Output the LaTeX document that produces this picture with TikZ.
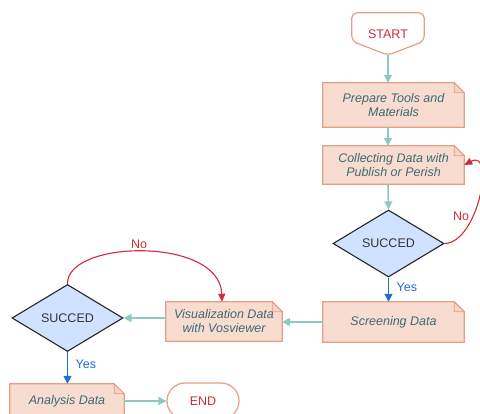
\documentclass[tikz,border=0pt]{standalone}
\usepackage{fontspec}
\setmainfont{Liberation Sans}
\usetikzlibrary{shapes.geometric,shapes.misc,arrows.meta,backgrounds}
\definecolor{flowteal}{RGB}{142,201,192}
\definecolor{boxfill}{RGB}{249,220,208}
\definecolor{boxline}{RGB}{226,160,132}
\definecolor{boxtext}{RGB}{62,106,116}
\definecolor{flowred}{RGB}{208,44,58}
\definecolor{flowblue}{RGB}{30,111,217}
\definecolor{dfill}{RGB}{207,226,255}
\tikzset{
  docbox/.style={rectangle, inner sep=0pt, align=center, text=boxtext,
    font=\fontsize{12.5}{14}\selectfont\itshape},
  decision/.style={diamond, draw=black!85, fill=dfill, line width=1.1pt,
    minimum width=111pt, minimum height=67pt, inner sep=0pt,
    font=\fontsize{12.5}{14}\selectfont, text=black!80},
  terminal/.style={font=\fontsize{12.5}{14}\selectfont, text=flowred},
  tealarrow/.style={draw=flowteal, line width=1.6pt,
    -{Triangle[length=8pt,width=8pt]}},
  redarrow/.style={draw=flowred, line width=1.1pt,
    -{Triangle[length=8pt,width=7pt]}},
  bluearrow/.style={draw=flowblue, line width=1.6pt,
    -{Triangle[length=8pt,width=8pt]}},
  lbl/.style={font=\fontsize{12.5}{14}\selectfont},
}
\newcommand\foldbox[1]{%
  \filldraw[fill=boxfill, draw=boxline, line width=1.2pt]
    (#1.north west) -- ([xshift=-10pt]#1.north east) -- ([yshift=-10pt]#1.north east)
    -- (#1.south east) -- (#1.south west) -- cycle;
  \draw[boxline, line width=0.8pt, fill=boxfill!85!boxline]
    ([xshift=-10pt]#1.north east) -- ([xshift=-10pt,yshift=-10pt]#1.north east)
    -- ([yshift=-10pt]#1.north east) -- cycle;
}
\begin{document}
\begin{tikzpicture}[x=1pt,y=-1pt]
\useasboundingbox (0,0) rectangle (480,414);

% START
\node[terminal, minimum width=72pt, minimum height=42pt, inner sep=0pt] (start) at (388,34) {START};
\draw[boxline, line width=1.2pt, rounded corners=5pt]
  (start.north west) -- (start.north east) -- ([yshift=14pt]start.south east)
  -- (start.south) -- ([yshift=14pt]start.south west) -- cycle;

% boxes
\node[docbox, minimum width=141pt, minimum height=44pt] (prep) at (393.5,105) {Prepare Tools and\\Materials};
\node[docbox, minimum width=141pt, minimum height=38pt] (collect) at (393.5,165) {Collecting Data with\\Publish or Perish};
\node[decision] (d1) at (388.5,243.5) {SUCCED};
\node[docbox, minimum width=141pt, minimum height=40pt] (screen) at (393.5,322) {Screening Data};
\node[docbox, minimum width=116pt, minimum height=39pt] (vis) at (224,321.5) {Visualization Data\\with Vosviewer};
\node[decision] (d2) at (67.5,318) {SUCCED};
\node[docbox, minimum width=114pt, minimum height=34pt] (ana) at (67,401) {Analysis Data};
\node[terminal, rounded rectangle, draw=boxline, line width=1.2pt, fill=white,
  minimum width=72pt, minimum height=36pt, inner sep=0pt] (end) at (203,401) {END};

\begin{scope}[on background layer]
  \fill[white] (0,0) rectangle (480,414);
  \foldbox{prep}
  \foldbox{collect}
  \foldbox{screen}
  \foldbox{vis}
  \foldbox{ana}
\end{scope}

% connectors
\draw[tealarrow] (start.south) -- (start.south |- prep.north);
\draw[tealarrow] (start.south |- prep.south) -- (start.south |- collect.north);
\draw[tealarrow] (start.south |- collect.south) -- (d1.north);
\draw[bluearrow] (d1.south) -- (d1.south |- screen.north)
  node[pos=0.4, right=4pt, lbl, text=flowblue] {Yes};
\draw[redarrow] (d1.east) .. controls (478,243) and (496,148) .. (collect.east);
\node[lbl, text=flowred] (no1) at (461,216) {No};
\draw[tealarrow] (screen.west) -- (vis.east |- screen.west);
\draw[tealarrow] (vis.west |- d2.east) -- (d2.east);
\draw[redarrow] (d2.north) .. controls (66,240) and (220,236) .. ([xshift=-2pt]vis.north);
\node[lbl, text=flowred] (no2) at (139,244) {No};
\draw[bluearrow] (d2.south) -- (d2.south |- ana.north)
  node[pos=0.4, right=4pt, lbl, text=flowblue] {Yes};
\draw[tealarrow] (ana.east) -- (end.west);
\end{tikzpicture}
\end{document}
